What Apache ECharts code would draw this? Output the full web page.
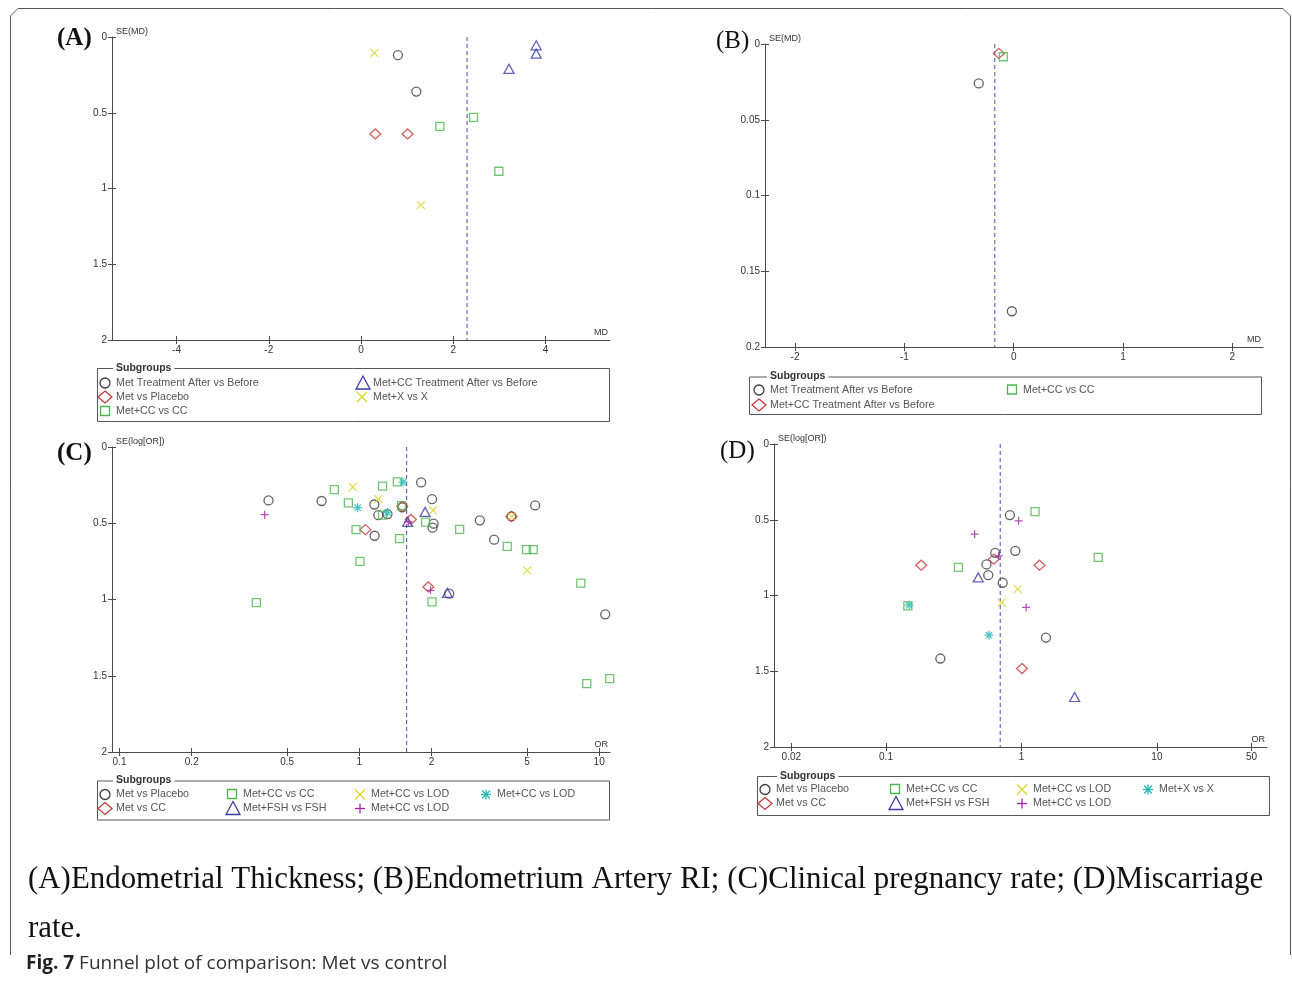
<!DOCTYPE html>
<html>
<head>
<meta charset="utf-8">
<script src="https://cdn.jsdelivr.net/npm/echarts@6/dist/echarts.min.js"></script>
<style>
  html, body { margin: 0; padding: 0; background: #fff; }
  #chart { width: 1292px; height: 983px; }
</style>
</head>
<body>
<div id="chart"></div>
<script>
// ---- (A) Endometrial thickness: [MD, SE(MD)]
const aMetAfterBefore = [[0.80, 0.12], [1.20, 0.36]];
const aMetPlacebo = [[0.31, 0.64], [1.01, 0.64]];
const aMetCcCc = [[1.71, 0.59], [2.44, 0.53], [2.99, 0.886]];
const aMetCcAfterBefore = [[3.80, 0.055], [3.80, 0.11], [3.21, 0.21]];
const aMetXX = [[0.29, 0.105], [1.30, 1.11]];
const aPooled = 2.30;
const aXTicks = [-4, -2, 0, 2, 4];

// ---- (B) Endometrium artery RI: [MD, SE(MD)]
const bMetAfterBefore = [[-0.32, 0.026], [-0.017, 0.1764]];
const bMetCcAfterBefore = [[-0.136, 0.0062]];
const bMetCcCc = [[-0.095, 0.0084]];
const bPooled = -0.173;
const bXTicks = [-2, -1, 0, 1, 2];

// ---- (C) Clinical pregnancy rate: [OR, SE(log[OR])]
const cMetPlacebo = [[0.418, 0.35], [0.696, 0.354], [1.155, 0.377], [1.158, 0.582], [1.20, 0.447],
  [1.31, 0.44], [1.51, 0.395], [1.81, 0.232], [2.01, 0.342], [2.04, 0.503], [2.02, 0.529],
  [3.18, 0.481], [3.65, 0.608], [4.31, 0.455], [5.41, 0.383], [2.37, 0.962], [10.6, 1.097]];
const cMetCc = [[1.06, 0.542], [1.51, 0.389], [1.64, 0.475], [1.94, 0.918], [4.31, 0.455]];
const cMetCcCc = [[0.372, 1.02], [0.787, 0.28], [0.90, 0.367], [0.969, 0.542], [1.006, 0.75],
  [1.25, 0.256], [1.44, 0.229], [1.25, 0.447], [1.50, 0.385], [1.47, 0.601], [1.89, 0.492],
  [2.62, 0.54], [2.01, 1.016], [4.14, 0.651], [4.98, 0.673], [5.31, 0.673], [8.39, 0.892],
  [8.88, 1.552], [11.07, 1.519]];
const cMetFshFsh = [[1.59, 0.491], [1.88, 0.426], [2.33, 0.957]];
const cMetCcLodX = [[0.94, 0.262], [1.20, 0.342], [2.03, 0.415], [5.01, 0.809], [4.31, 0.455]];
const cMetCcLodPlus = [[0.403, 0.444], [1.98, 0.94], [1.60, 0.49]];
const cMetCcLodStar = [[0.984, 0.398], [1.31, 0.43], [1.52, 0.23]];
const cPooled = 1.575;
const cXTicks = [0.1, 0.2, 0.5, 1, 2, 5, 10];
const cXRange = [0.093, 11.1];

// ---- (D) Miscarriage rate: [OR, SE(log[OR])]
const dMetPlacebo = [[0.822, 0.469], [0.64, 0.718], [0.901, 0.705], [0.552, 0.795], [0.569, 0.866],
  [0.727, 0.916], [1.517, 1.278], [0.252, 1.416]];
const dMetCc = [[0.624, 0.76], [0.182, 0.80], [1.36, 0.80], [1.01, 1.482]];
const dMetCcCc = [[1.26, 0.447], [3.69, 0.749], [0.343, 0.815], [0.145, 1.068]];
const dMetFshFsh = [[0.48, 0.881], [2.47, 1.67]];
const dMetCcLodX = [[0.94, 0.958], [0.714, 1.046]];
const dMetCcLodPlus = [[0.953, 0.507], [0.451, 0.595], [0.68, 0.738], [1.083, 1.079]];
const dMetXXStar = [[0.148, 1.064], [0.576, 1.262]];
const dPooled = 0.697;
const dXTicks = [0.02, 0.1, 1, 10, 50];
const dXRange = [0.0149, 65];

// colours per marker kind
const COLORS = {
  circle: '#3c3c3c', diamond: '#c43a3a', rect: '#4cb84c', triangle: '#3a3aa8',
  cross: '#d6d62c', plus: '#a424a8', star: '#22b6b6'
};
const pooledColor = '#4a4ab4';

const SYMBOLS = {
  circle: 'circle', diamond: 'diamond', rect: 'rect', triangle: 'triangle',
  cross: 'path://M0,0L10,10M10,0L0,10',
  plus: 'path://M5,0L5,10M0,5L10,5',
  star: 'path://M5,0L5,10M0,5L10,5M1.5,1.5L8.5,8.5M8.5,1.5L1.5,8.5'
};
const SIZES = { circle: 9, diamond: [11, 10], rect: 8, triangle: [10, 9], cross: 8, plus: 8, star: 9 };

const panels = [
  {
    grid: { left: 112, top: 37, width: 498, height: 303 },
    log: false, xRange: [-5.4, 5.4], xTicks: aXTicks, yMax: 2, yStep: 0.5,
    xName: 'MD', yName: 'SE(MD)', pooled: aPooled,
    groups: [
      { label: 'Met Treatment After vs Before', kind: 'circle', pts: aMetAfterBefore },
      { label: 'Met vs Placebo', kind: 'diamond', pts: aMetPlacebo },
      { label: 'Met+CC vs CC', kind: 'rect', pts: aMetCcCc },
      { label: 'Met+CC Treatment After vs Before', kind: 'triangle', pts: aMetCcAfterBefore },
      { label: 'Met+X vs X', kind: 'cross', pts: aMetXX }
    ],
    tag: { text: '(A)', x: 57, y: 40, bold: true },
    legend: { x0: 97, x1: 609, top: 368, bottom: 421, titleX: 116, rows: [383, 397, 411.5], cols: [105, 362] }
  },
  {
    grid: { left: 765, top: 44, width: 498, height: 303 },
    log: false, xRange: [-2.275, 2.28], xTicks: bXTicks, yMax: 0.2, yStep: 0.05,
    xName: 'MD', yName: 'SE(MD)', pooled: bPooled,
    groups: [
      { label: 'Met Treatment After vs Before', kind: 'circle', pts: bMetAfterBefore },
      { label: 'Met+CC Treatment After vs Before', kind: 'diamond', pts: bMetCcAfterBefore },
      { label: 'Met+CC vs CC', kind: 'rect', pts: bMetCcCc }
    ],
    tag: { text: '(B)', x: 716, y: 43, bold: false },
    legend: { x0: 749, x1: 1261, top: 376.5, bottom: 414, titleX: 770, rows: [390, 405], cols: [759, 1012] }
  },
  {
    grid: { left: 112, top: 447, width: 498, height: 305 },
    log: true, xRange: cXRange, xTicks: cXTicks, yMax: 2, yStep: 0.5,
    xName: 'OR', yName: 'SE(log[OR])', pooled: cPooled,
    groups: [
      { label: 'Met vs Placebo', kind: 'circle', pts: cMetPlacebo },
      { label: 'Met vs CC', kind: 'diamond', pts: cMetCc },
      { label: 'Met+CC vs CC', kind: 'rect', pts: cMetCcCc },
      { label: 'Met+FSH vs FSH', kind: 'triangle', pts: cMetFshFsh },
      { label: 'Met+CC vs LOD', kind: 'cross', pts: cMetCcLodX },
      { label: 'Met+CC vs LOD', kind: 'plus', pts: cMetCcLodPlus },
      { label: 'Met+CC vs LOD', kind: 'star', pts: cMetCcLodStar }
    ],
    tag: { text: '(C)', x: 57, y: 455, bold: true },
    legend: { x0: 97, x1: 609, top: 780.5, bottom: 819.5, titleX: 116, rows: [794.5, 808.5], cols: [105, 232, 360, 486] }
  },
  {
    grid: { left: 774, top: 444, width: 493, height: 303 },
    log: true, xRange: dXRange, xTicks: dXTicks, yMax: 2, yStep: 0.5,
    xName: 'OR', yName: 'SE(log[OR])', pooled: dPooled,
    groups: [
      { label: 'Met vs Placebo', kind: 'circle', pts: dMetPlacebo },
      { label: 'Met vs CC', kind: 'diamond', pts: dMetCc },
      { label: 'Met+CC vs CC', kind: 'rect', pts: dMetCcCc },
      { label: 'Met+FSH vs FSH', kind: 'triangle', pts: dMetFshFsh },
      { label: 'Met+CC vs LOD', kind: 'cross', pts: dMetCcLodX },
      { label: 'Met+CC vs LOD', kind: 'plus', pts: dMetCcLodPlus },
      { label: 'Met+X vs X', kind: 'star', pts: dMetXXStar }
    ],
    tag: { text: '(D)', x: 720, y: 453, bold: false },
    legend: { x0: 757, x1: 1269, top: 776, bottom: 815, titleX: 780, rows: [789.5, 803.5], cols: [765, 895, 1022, 1148] }
  }
];

const axisColor = '#4a4a4a';
const labelStyle = { color: '#333', fontSize: 10, fontFamily: 'Liberation Sans' };
const fmtNum = v => String(+(+v).toFixed(3));

const grids = [], xAxes = [], yAxes = [], series = [], graphics = [];

panels.forEach((p, gi) => {
  grids.push(Object.assign({ outerBoundsMode: 'none', containLabel: false }, p.grid));
  const tx = p.log ? p.xTicks.map(Math.log10) : p.xTicks;
  const xMin = p.log ? Math.log10(p.xRange[0]) : p.xRange[0];
  const xMax = p.log ? Math.log10(p.xRange[1]) : p.xRange[1];

  // main x axis: outside ticks + labels + name
  xAxes.push({
    gridIndex: gi, type: 'value', min: xMin, max: xMax, position: 'bottom',
    splitLine: { show: false },
    axisLine: { onZero: false, lineStyle: { color: axisColor, width: 1 } },
    axisTick: { customValues: tx, length: 4, lineStyle: { color: axisColor } },
    axisLabel: Object.assign({
      customValues: tx, margin: 5,
      formatter: v => p.log ? String(+Math.pow(10, v).toPrecision(3)) : fmtNum(v)
    }, labelStyle),
    name: p.xName, nameLocation: 'end', nameGap: -2,
    nameTextStyle: { color: '#333', fontSize: 9, fontFamily: 'Liberation Sans', align: 'right', verticalAlign: 'bottom', padding: [0, 0, 3, 0] }
  });
  // twin x axis: inside half of the crossing ticks
  xAxes.push({
    gridIndex: gi, type: 'value', min: xMin, max: xMax, position: 'bottom',
    splitLine: { show: false }, axisLine: { show: false, onZero: false },
    axisTick: { customValues: tx, inside: true, length: 4, lineStyle: { color: axisColor } },
    axisLabel: { show: false }
  });
  yAxes.push({
    gridIndex: gi, type: 'value', inverse: true, min: 0, max: p.yMax, interval: p.yStep, position: 'left',
    splitLine: { show: false },
    axisLine: { show: true, onZero: false, lineStyle: { color: axisColor, width: 1 } },
    axisTick: { show: true, length: 4, lineStyle: { color: axisColor } },
    axisLabel: Object.assign({ margin: 5, showMinLabel: true, showMaxLabel: true, formatter: fmtNum }, labelStyle),
    name: p.yName, nameLocation: 'start', nameGap: 1,
    nameTextStyle: { color: '#333', fontSize: 9, fontFamily: 'Liberation Sans', align: 'left', verticalAlign: 'bottom', padding: [0, 0, 0, 4] }
  });
  yAxes.push({
    gridIndex: gi, type: 'value', inverse: true, min: 0, max: p.yMax, interval: p.yStep, position: 'left',
    splitLine: { show: false }, axisLine: { show: false, onZero: false },
    axisTick: { show: true, inside: true, length: 4, lineStyle: { color: axisColor } },
    axisLabel: { show: false }
  });

  // pooled estimate (dashed vertical)
  const px = p.log ? Math.log10(p.pooled) : p.pooled;
  series.push({
    type: 'line', xAxisIndex: 2 * gi, yAxisIndex: 2 * gi, data: [[px, 0], [px, p.yMax]],
    symbol: 'none', silent: true, animation: false, z: 1,
    lineStyle: { color: pooledColor, width: 1, type: [4, 3] }
  });

  p.groups.forEach(g => {
    series.push({
      type: 'scatter', xAxisIndex: 2 * gi, yAxisIndex: 2 * gi,
      data: p.log ? g.pts.map(d => [Math.log10(d[0]), d[1]]) : g.pts,
      symbol: SYMBOLS[g.kind], symbolSize: SIZES[g.kind],
      itemStyle: { color: 'transparent', borderColor: COLORS[g.kind], borderWidth: 1.3 },
      emphasis: { disabled: true }, silent: true, animation: false, z: 3
    });
  });

  // panel tag
  graphics.push({
    type: 'text', left: p.tag.x, top: p.tag.y - 14,
    style: { text: p.tag.text, font: (p.tag.bold ? 'bold ' : '') + '25px "Liberation Serif"', fill: '#111' }
  });

  // legend box
  const L = p.legend;
  graphics.push({
    type: 'polyline', silent: true,
    shape: { points: [[L.x0 + 0.5, L.top + 0.5], [L.x0 + 0.5, L.bottom + 0.5], [L.x1 + 0.5, L.bottom + 0.5], [L.x1 + 0.5, L.top + 0.5], [L.x0 + 0.5, L.top + 0.5]] },
    style: { stroke: '#555', lineWidth: 1, fill: null }
  });
  graphics.push({
    type: 'text', x: L.titleX - 3, y: L.top, silent: true,
    style: {
      text: 'Subgroups', font: 'bold 10.5px "Liberation Sans"', fill: '#333',
      verticalAlign: 'middle', backgroundColor: '#fff', padding: [0, 3]
    }
  });
  const nRows = L.rows.length;
  p.groups.forEach((g, i) => {
    const sx = L.cols[Math.floor(i / nRows)];
    const sy = L.rows[i % nRows];
    graphics.push(legendSymbol(g.kind, COLORS[g.kind], sx, sy));
    graphics.push({
      type: 'text', x: sx + 11, y: sy, silent: true,
      style: { text: g.label, font: '10.7px "Liberation Sans"', fill: '#555', verticalAlign: 'middle' }
    });
  });
});

function legendSymbol(kind, color, cx, cy) {
  const st = { fill: null, stroke: color, lineWidth: 1.3 };
  const line = (x1, y1, x2, y2) => ({ type: 'line', shape: { x1, y1, x2, y2 }, style: st });
  switch (kind) {
    case 'circle': return { type: 'circle', silent: true, shape: { cx, cy, r: 5 }, style: st };
    case 'rect': return { type: 'rect', silent: true, shape: { x: cx - 4.5, y: cy - 5, width: 9, height: 9 }, style: st };
    case 'diamond': return { type: 'polygon', silent: true, shape: { points: [[cx, cy - 6], [cx + 7, cy], [cx, cy + 6], [cx - 7, cy]] }, style: st };
    case 'triangle': return { type: 'polygon', silent: true, shape: { points: [[cx + 1, cy - 7], [cx + 8, cy + 6], [cx - 6, cy + 6]] }, style: st };
    case 'cross': return { type: 'group', silent: true, children: [line(cx - 5, cy - 5, cx + 5, cy + 5), line(cx + 5, cy - 5, cx - 5, cy + 5)] };
    case 'plus': return { type: 'group', silent: true, children: [line(cx, cy - 5, cx, cy + 5), line(cx - 5, cy, cx + 5, cy)] };
    default: return { type: 'group', silent: true, children: [line(cx, cy - 5, cx, cy + 5), line(cx - 5, cy, cx + 5, cy), line(cx - 4, cy - 4, cx + 4, cy + 4), line(cx + 4, cy - 4, cx - 4, cy + 4)] };
  }
}

// outer frame and caption
graphics.push({
  type: 'polyline', silent: true,
  shape: { points: [[10.5, 955], [10.5, 16], [18, 8.5], [1283, 8.5], [1290.5, 16], [1290.5, 955]] },
  style: { stroke: '#555', lineWidth: 1, fill: null }
});
graphics.push({
  type: 'text', x: 28, y: 880, silent: true,
  style: {
    text: '(A)Endometrial Thickness; (B)Endometrium Artery RI; (C)Clinical pregnancy rate; (D)Miscarriage',
    font: '30.9px "Liberation Serif"', fill: '#111', verticalAlign: 'middle'
  }
});
graphics.push({
  type: 'text', x: 28, y: 929, silent: true,
  style: { text: 'rate.', font: '30.9px "Liberation Serif"', fill: '#111', verticalAlign: 'middle' }
});
graphics.push({
  type: 'text', x: 26, y: 964, silent: true,
  style: {
    text: '{b|Fig. 7} Funnel plot of comparison: Met vs control',
    font: '19px "Open Sans"', fill: '#333', verticalAlign: 'middle',
    rich: { b: { font: 'bold 19px "Open Sans"', fill: '#222' } }
  }
});

const chart = echarts.init(document.getElementById('chart'), null, { renderer: 'canvas' });
chart.setOption({
  animation: false,
  backgroundColor: '#fff',
  grid: grids,
  xAxis: xAxes,
  yAxis: yAxes,
  series: series,
  graphic: graphics
});
</script>
</body>
</html>
